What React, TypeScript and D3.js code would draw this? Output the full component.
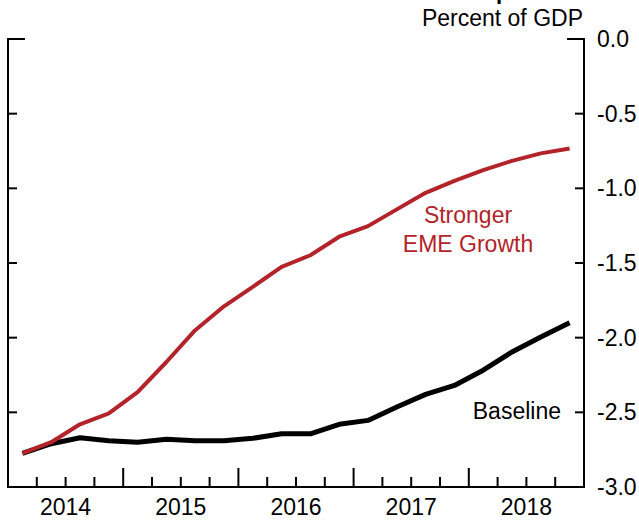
import React from "react";
import * as d3 from "d3";

const quarters = [
  "2014Q1", "2014Q2", "2014Q3", "2014Q4",
  "2015Q1", "2015Q2", "2015Q3", "2015Q4",
  "2016Q1", "2016Q2", "2016Q3", "2016Q4",
  "2017Q1", "2017Q2", "2017Q3", "2017Q4",
  "2018Q1", "2018Q2", "2018Q3", "2018Q4",
];
const baseline = [
  -2.775, -2.71, -2.67, -2.69, -2.7, -2.68, -2.69, -2.69, -2.674, -2.643,
  -2.644, -2.58, -2.554, -2.464, -2.38, -2.32, -2.218, -2.096, -1.995, -1.9,
];
const stronger = [
  -2.775, -2.7, -2.58, -2.507, -2.364, -2.163, -1.95, -1.79, -1.66, -1.526,
  -1.448, -1.324, -1.253, -1.141, -1.03, -0.95, -0.878, -0.816, -0.766, -0.733,
];
const yearLabels = ["2014", "2015", "2016", "2017", "2018"];
const yTicks = [0, -0.5, -1.0, -1.5, -2.0, -2.5, -3.0];

const W = 639;
const H = 520;
const left = 8;
const right = 584;
const top = 39;
const bottom = 487;
const FONT = "'Liberation Sans', Arial, sans-serif";
const RED = "#b3232a";
const FS = 23;

function qToX(q: string) {
  const year = +q.slice(0, 4);
  const qi = +q.slice(5) - 1;
  return year + (qi + 0.5) / 4;
}

export default function App() {
  const x = d3.scaleLinear().domain([2014, 2019]).range([left, right]);
  const y = d3.scaleLinear().domain([-3, 0]).range([bottom, top]);
  const line = d3
    .line<number>()
    .x((_, i) => x(qToX(quarters[i])))
    .y((d) => y(d));

  const qTicks = d3.range(2014, 2019.001, 0.25);

  return (
    <svg
      width={W}
      height={H}
      style={{ position: "absolute", left: 0, top: 0, background: "#fff" }}
      fontFamily={FONT}
    >
      <rect width={W} height={H} fill="#fff" />
      {/* clipped title glyph */}
      <text x={496} y={-1} fontSize={22} fontWeight="bold" fill="#000">
        p
      </text>
      <text x={583} y={26} fontSize={FS} textAnchor="end" fill="#000">
        Percent of GDP
      </text>

      {/* axes frame */}
      <g stroke="#000" strokeWidth={2} fill="none">
        <line x1={left} x2={left} y1={top} y2={bottom} />
        <line x1={right} x2={right} y1={top} y2={bottom} />
        <line x1={left} x2={right} y1={bottom} y2={bottom} />
        {yTicks.map((t) => {
          const len = t === 0 ? 17 : 9;
          return (
            <g key={t}>
              <line x1={left - 1} x2={left + len} y1={y(t)} y2={y(t)} />
              <line x1={right + 1} x2={right - len} y1={y(t)} y2={y(t)} />
            </g>
          );
        })}
        {qTicks.map((t, i) => {
          const major = i % 4 === 0;
          if (i === 0 || i === qTicks.length - 1) return null;
          return (
            <line
              key={i}
              x1={x(t)}
              x2={x(t)}
              y1={bottom}
              y2={bottom - (major ? 19 : 10)}
            />
          );
        })}
      </g>

      {/* y labels */}
      {yTicks.map((t) => (
        <text key={t} x={597} y={y(t) + 8} fontSize={FS} fill="#000">
          {t.toFixed(1)}
        </text>
      ))}
      {/* x labels */}
      {yearLabels.map((yr) => (
        <text
          key={yr}
          x={x(+yr + 0.5)}
          y={515}
          fontSize={FS}
          textAnchor="middle"
          fill="#000"
        >
          {yr}
        </text>
      ))}

      <path
        d={line(baseline) || ""}
        fill="none"
        stroke="#000"
        strokeWidth={5}
        strokeLinejoin="round"
      />
      <path
        d={line(stronger) || ""}
        fill="none"
        stroke={RED}
        strokeWidth={4}
        strokeLinejoin="round"
      />

      <text x={468} y={223} fontSize={FS} textAnchor="middle" fill={RED}>
        Stronger
      </text>
      <text x={468} y={252} fontSize={FS} textAnchor="middle" fill={RED}>
        EME Growth
      </text>
      <text x={561} y={419} fontSize={FS} textAnchor="end" fill="#000">
        Baseline
      </text>
    </svg>
  );
}
